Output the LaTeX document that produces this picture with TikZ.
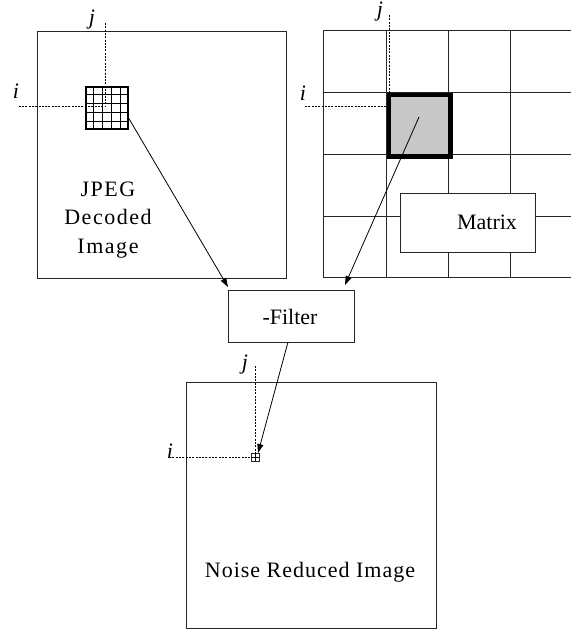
\documentclass[tikz,border=0pt]{standalone}
\usepackage{fontspec}
\setmainfont{Liberation Serif}
\usetikzlibrary{arrows.meta,calc}
\begin{document}
\begin{tikzpicture}[x=1pt,y=-1pt,
  box/.style={draw=black!85, line width=0.8pt, inner sep=0pt, anchor=north west},
  lbl/.style={font=\fontsize{22}{26}\selectfont\itshape, inner sep=0pt},
  txt/.style={font=\fontsize{22}{28.5}\selectfont, inner sep=0pt, align=center},
  sptxt/.style={font=\fontsize{22}{28.5}\selectfont\addfontfeature{LetterSpace=7}, inner sep=0pt, align=center},
  sptxtb/.style={font=\fontsize{22}{28.5}\selectfont\addfontfeature{LetterSpace=4.5}, inner sep=0pt, align=center},
  dashline/.style={dash pattern=on 2pt off 1.3pt, line width=0.7pt},
  gridline/.style={draw=black!85, line width=0.8pt},
  conn/.style={-{Triangle[length=9pt,width=6pt]}, line width=0.8pt}]
\useasboundingbox (0,0) rectangle (571,629);

% ---------- left image ----------
\node[box, minimum width=249pt, minimum height=247pt] (lbox) at (37,31) {};
\node[sptxt] (ltxt) at (108,220) {JPEG\\Decoded\\Image};
\node[box, draw=black, line width=1.6pt, minimum size=42pt] (sgrid) at (85,86) {};
\foreach \k in {1,...,4}{
  \draw[line width=0.7pt] ($(sgrid.north west)!\k/5!(sgrid.north east)$) -- ($(sgrid.south west)!\k/5!(sgrid.south east)$);
  \draw[line width=0.7pt] ($(sgrid.north west)!\k/5!(sgrid.south west)$) -- ($(sgrid.north east)!\k/5!(sgrid.south east)$);
}
\coordinate (lj) at (105.5,23);
\coordinate (lc) at (105.5,106.5);
\coordinate (li) at (18,106.5);
\draw[dashline] (lj) -- (lc) -- (li);
\node[lbl] (ljl) at (92,20) {j};
\node[lbl] (lil) at (16,91) {i};

% ---------- right grid ----------
\foreach \x in {323,386.7,448.3,510.7}
  \draw[gridline] (\x,30) -- (\x,277.7);
\foreach \y in {30,92.7,154.3,216,277.7}
  \draw[gridline] (323,\y) -- (571,\y);
\node[box, draw=black, line width=4.5pt, fill=black!22, minimum size=61.6pt] (cell) at (386.7,92.7) {};
\node[box, fill=white, minimum width=135pt, minimum height=59pt] (mbox) at (400,193) {};
\node[txt] (mtxt) at (487,222) {Matrix};
\coordinate (rj) at (389,15);
\coordinate (rjb) at (389,92.7);
\coordinate (ri) at (305,106);
\coordinate (rib) at (386,106);
\draw[dashline] (rj) -- (rjb);
\draw[dashline] (ri) -- (rib);
\node[lbl] (rjl) at (380,12) {j};
\node[lbl] (ril) at (303,93) {i};

% ---------- filter ----------
\node[box, minimum width=126pt, minimum height=52pt] (fbox) at (228,290) {};
\node[txt] (ftxt) at (290,317) {-Filter};

% ---------- bottom image ----------
\node[box, minimum width=250pt, minimum height=246pt] (bbox) at (186,382) {};
\node[sptxtb] (btxt) at (310,572) {Noise Reduced Image};
\node[box, draw=black!85, line width=0.6pt, minimum size=7.5pt] (px) at (251,453) {};
\draw[line width=0.4pt] (px.north) -- (px.south) (px.west) -- (px.east);
\coordinate (bj) at (255,366);
\coordinate (bc) at (255,457);
\coordinate (bi) at (170,457);
\draw[dashline] (bj) -- (bc) -- (bi);
\node[lbl] (bjl) at (245,365) {j};
\node[lbl] (bil) at (170,451) {i};

% ---------- connectors ----------
\coordinate (a1s) at (128,117);
\coordinate (a1e) at (228,287);
\coordinate (a2s) at (419,117);
\coordinate (a2e) at (345,285);
\coordinate (a3s) at (288,342);
\coordinate (a3e) at (258,453);
\draw[conn] (a1s) -- (a1e);
\draw[conn] (a2s) -- (a2e);
\draw[conn] (a3s) -- (a3e);
\end{tikzpicture}
\end{document}
